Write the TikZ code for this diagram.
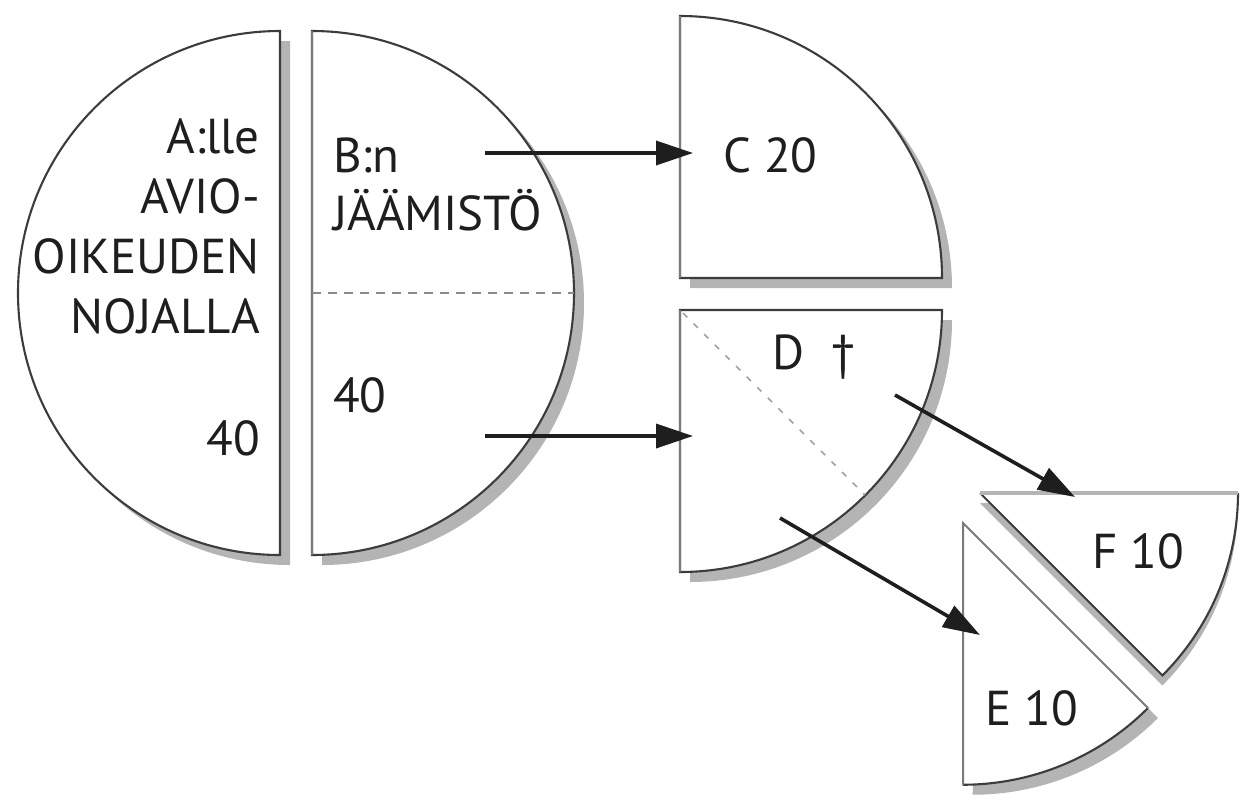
\documentclass[tikz,border=0pt]{standalone}
\usepackage{fontspec}
\setmainfont{PT Sans}
\usetikzlibrary{arrows.meta}
\definecolor{shade}{HTML}{B4B4B4}
\definecolor{edge}{HTML}{3C3C3C}
\definecolor{lightedge}{HTML}{7A7A7A}
\definecolor{ink}{HTML}{1E1E1E}
\definecolor{dashgray}{HTML}{8A8A8A}
\begin{document}
\begin{tikzpicture}[x=1pt,y=-1pt,
  shadowfill/.style={fill=shade,draw=none},
  piece/.style={fill=white,draw=edge,line width=2.1pt,line join=miter},
  blank/.style={fill=white,draw=none},
  darkedge/.style={draw=edge,line width=2.1pt},
  softedge/.style={draw=lightedge,line width=2pt},
  cutline/.style={draw=dashgray,line width=1.8pt,dash pattern=on 9pt off 7pt},
  diagline/.style={draw=dashgray!80,line width=1.6pt,dash pattern=on 6pt off 9pt},
  flow/.style={draw=ink,line width=3.6pt,-{Triangle[length=37pt,width=24pt]}},
  label/.style={inner sep=0pt,text=ink,font=\fontsize{49}{60}\selectfont},
]
\useasboundingbox (0,0) rectangle (1243,807);

% ---- shadows
\fill[shadowfill,shift={(10,10)}] (280,31) -- (280,555) arc[start angle=90,end angle=270,radius=262] -- cycle;
\fill[shadowfill,shift={(10,10)}] (312,555) -- (312,31) arc[start angle=-90,end angle=90,radius=262] -- cycle;
\fill[shadowfill,shift={(10,10)}] (680,278) -- (680,16) arc[start angle=-90,end angle=0,radius=262] -- cycle;
\fill[shadowfill,shift={(10,10)}] (680,310) -- (942,310) arc[start angle=0,end angle=90,radius=262] -- cycle;
\fill[shadowfill,shift={(0,10)}] (980,493) -- (1238,493) arc[start angle=0,end angle=45,radius=258] -- cycle;
\fill[shadowfill,shift={(10,10)}] (963,523) -- (1148,708) arc[start angle=45,end angle=90,radius=262] -- cycle;

% ---- A's half
\draw[piece] (280,31) -- (280,555) arc[start angle=90,end angle=270,radius=262] -- cycle;
% ---- B's half
\draw[piece] (312,555) -- (312,31) arc[start angle=-90,end angle=90,radius=262] -- cycle;
\draw[softedge] (312,31) -- (312,555);
\draw[cutline] (312,293) -- (574,293);
% ---- C
\draw[piece] (680,278) -- (680,16) arc[start angle=-90,end angle=0,radius=262] -- cycle;
\draw[softedge] (680,16) -- (680,278);
% ---- D
\draw[piece] (680,310) -- (942,310) arc[start angle=0,end angle=90,radius=262] -- cycle;
\draw[softedge] (680,310) -- (680,572);
\draw[diagline] (683,313) -- (865,495);
% ---- F
\fill[blank] (980,493) -- (1238,493) arc[start angle=0,end angle=45,radius=258] -- cycle;
\draw[darkedge] (1238,493) arc[start angle=0,end angle=45,radius=258] -- (980,493);
\draw[draw=shade,line width=4pt] (980,493) -- (1238,493);
% ---- E
\fill[blank] (963,523) -- (1148,708) arc[start angle=45,end angle=90,radius=262] -- cycle;
\draw[darkedge] (1148,708) arc[start angle=45,end angle=90,radius=262];
\draw[softedge] (963,785) -- (963,523) -- (1148,708);

% ---- texts
\node[label,align=right,anchor=base east] (alabel) at (260,333) {A:lle\\AVIO-\\OIKEUDEN\\NOJALLA};
\node[label,anchor=base east] (aval) at (260,455) {40};
\node[label,align=left,anchor=base west,font=\fontsize{49}{58}\selectfont] (blabel) at (333,230) {B:n\\JÄÄMISTÖ};
\node[label,anchor=base west] (bval) at (333,412) {40};
\node[label,anchor=base west] (clabel) at (723,172) {C 20};
\node[label,anchor=base west] (dlabel) at (772,369) {D\hspace{27pt}†};
\node[label,anchor=base west] (flabel) at (1092,568) {F 10};
\node[label,anchor=base west] (elabel) at (985,725) {E 10};

% ---- connectors
\coordinate (b1) at (485,153);
\coordinate (c1) at (693,153);
\coordinate (b2) at (485,436);
\coordinate (d1) at (693,436);
\coordinate (d2) at (895,395);
\coordinate (f1) at (1075,497);
\coordinate (d3) at (780,518);
\coordinate (e1) at (980,635);
\draw[flow] (b1) -- (c1);
\draw[flow] (b2) -- (d1);
\draw[flow] (d2) -- (f1);
\draw[flow] (d3) -- (e1);
\end{tikzpicture}
\end{document}
